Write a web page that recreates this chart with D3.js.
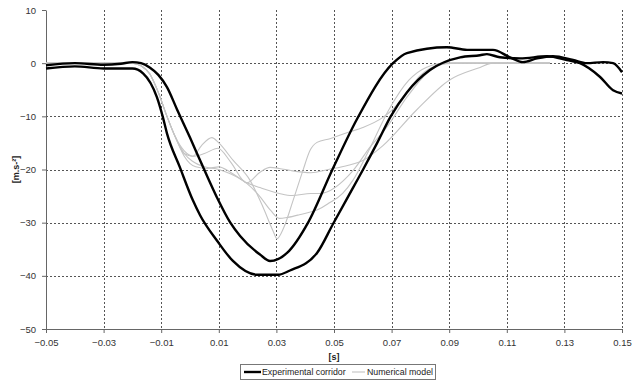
<!DOCTYPE html>
<html>
<head>
<meta charset="utf-8">
<script src="https://cdn.jsdelivr.net/npm/d3@7"></script>
<style>
  body { margin: 0; background: #fff; }
  svg { display: block; font-family: "Liberation Sans", Arial, sans-serif; }
  .axis path, .axis line { stroke: #666; }
  .axis text { fill: #333; font-size: 9.5px; }
</style>
</head>
<body>
<div id="chart"></div>
<script>
// experimental corridor, upper bound (time [s], accel [m.s-2])
const corridorUpT = [-0.05, -0.04, -0.03, -0.024, -0.02, -0.017, -0.014, -0.011, -0.008, -0.0045, 0.0, 0.0045, 0.0094, 0.014, 0.0174, 0.0243, 0.0278, 0.0337, 0.041, 0.0493, 0.058, 0.0705, 0.0753, 0.0892, 0.0962, 0.1052, 0.1111, 0.1156, 0.1205, 0.126, 0.133, 0.1378, 0.1434, 0.1469, 0.15];
const corridorUpV = [-0.4, 0.0, -0.3, -0.1, 0.2, 0.0, -0.8, -2.2, -4.5, -8.7, -14.0, -19.5, -25.3, -30.0, -32.5, -36.0, -37.2, -35.7, -30.0, -20.2, -10.5, 0.0, 1.9, 3.0, 2.5, 2.5, 1.1, 0.2, 0.9, 1.3, 0.6, 0.0, 0.2, 0.0, -1.7];

// experimental corridor, lower bound
const corridorLoT = [-0.05, -0.04, -0.03, -0.02, -0.0163, -0.0115, -0.0094, -0.008, -0.0035, 0.001, 0.0035, 0.0094, 0.0149, 0.0233, 0.0306, 0.0347, 0.0441, 0.0497, 0.055, 0.0601, 0.065, 0.0697, 0.0753, 0.0833, 0.0938, 0.1007, 0.1031, 0.1076, 0.1146, 0.124, 0.1309, 0.1354, 0.1424, 0.1469, 0.15];
const corridorLoV = [-1.0, -0.6, -1.0, -1.0, -1.9, -6.4, -10.2, -13.2, -19.6, -25.8, -28.6, -33.4, -37.2, -39.8, -39.8, -39.0, -35.7, -30.2, -25.0, -20.0, -15.0, -10.0, -5.5, -1.3, 1.1, 1.5, 1.7, 1.1, 0.9, 1.3, 0.6, 0.0, -2.6, -5.1, -5.7];

// numerical model runs
const modelAT = [-0.05, -0.03, -0.02, -0.017, -0.014, -0.011, -0.008, -0.005, -0.002, 0.001, 0.004, 0.0076, 0.010, 0.015, 0.0208, 0.0253, 0.0288, 0.0302, 0.0325, 0.0358, 0.0392, 0.0417, 0.0441, 0.0486, 0.055, 0.060, 0.067, 0.070, 0.075, 0.080, 0.086, 0.092, 0.125];
const modelAV = [0, 0, 0, -0.5, -2.0, -5.5, -10.0, -14.0, -17.0, -17.5, -15.5, -14.0, -15.0, -18.3, -22.0, -27.0, -31.5, -33.0, -31.0, -25.8, -20.2, -16.4, -14.9, -14.2, -13.0, -12.1, -10.2, -8.9, -5.7, -2.3, -0.4, 0, 0];

const modelBT = [-0.05, -0.03, -0.02, -0.017, -0.014, -0.011, -0.008, -0.005, -0.002, 0.001, 0.005, 0.010, 0.014, 0.0197, 0.024, 0.028, 0.031, 0.034, 0.038, 0.045, 0.048, 0.053, 0.0566, 0.062, 0.069, 0.076, 0.082, 0.089, 0.125];
const modelBV = [0, 0, 0, -0.5, -2.0, -5.5, -10.0, -14.0, -17.0, -18.5, -19.5, -20.0, -20.8, -22.6, -24.9, -27.7, -29.2, -29.0, -28.5, -27.4, -26.4, -24.5, -22.0, -16.5, -8.8, -3.2, -0.8, 0, 0];

const modelCT = [-0.05, -0.03, -0.02, -0.017, -0.014, -0.011, -0.008, -0.005, -0.002, 0.001, 0.005, 0.0097, 0.014, 0.0197, 0.0243, 0.0278, 0.031, 0.035, 0.042, 0.048, 0.055, 0.060, 0.067, 0.0785, 0.090, 0.1007, 0.105, 0.125];
const modelCV = [0, 0, 0, -0.5, -2.0, -5.5, -10.0, -14.0, -16.5, -17.5, -17.0, -16.0, -18.5, -22.5, -20.5, -19.6, -19.8, -20.2, -20.6, -20.0, -19.2, -18.3, -15.5, -8.9, -3.2, -0.8, 0, 0];

const modelDT = [-0.05, -0.03, -0.02, -0.017, -0.014, -0.011, -0.008, -0.005, -0.002, 0.002, 0.006, 0.010, 0.014, 0.0197, 0.0243, 0.031, 0.0354, 0.042, 0.0451, 0.0566, 0.0625, 0.0684, 0.0753, 0.0823, 0.0892, 0.125];
const modelDV = [0, 0, 0, -0.5, -2.0, -5.5, -10.0, -14.0, -17.5, -19.5, -19.8, -19.5, -20.5, -22.5, -23.4, -24.5, -24.9, -24.5, -24.5, -20.2, -15.8, -12.0, -6.4, -1.9, 0, 0];

const xTicks = [-0.05, -0.03, -0.01, 0.01, 0.03, 0.05, 0.07, 0.09, 0.11, 0.13, 0.15];
const yTicks = [-50, -40, -30, -20, -10, 0, 10];

const zip = (ts, vs) => ts.map((t, i) => ({ t, v: vs[i] }));
const corridor = [zip(corridorUpT, corridorUpV), zip(corridorLoT, corridorLoV)];
const model = [zip(modelAT, modelAV), zip(modelBT, modelBV), zip(modelCT, modelCV), zip(modelDT, modelDV)];

const w = 642, h = 387;
const m = { top: 10, right: 20, bottom: 58, left: 46 };

const svg = d3.select('#chart').append('svg')
  .attr('width', w).attr('height', h);

const x = d3.scaleLinear().domain([-0.05, 0.15]).range([m.left, w - m.right]);
const y = d3.scaleLinear().domain([-50, 10]).range([h - m.bottom, m.top]);

// grid
const grid = svg.append('g')
  .attr('stroke', '#555')
  .attr('stroke-width', 1)
  .attr('stroke-dasharray', '2,2');

grid.selectAll('.vg')
  .data(xTicks.slice(1))
  .join('line')
  .attr('x1', d => Math.round(x(d)) + 0.5).attr('x2', d => Math.round(x(d)) + 0.5)
  .attr('y1', y(10)).attr('y2', y(-50));

grid.selectAll('.hg')
  .data(yTicks.filter(d => d > -50 && d < 10))
  .join('line')
  .attr('x1', x(-0.05)).attr('x2', x(0.15))
  .attr('y1', d => Math.round(y(d)) + 0.5).attr('y2', d => Math.round(y(d)) + 0.5);

// axes
svg.append('g')
  .attr('class', 'axis')
  .attr('transform', `translate(0,${y(-50)})`)
  .call(d3.axisBottom(x).tickValues(xTicks).tickFormat(d3.format('.2f')).tickSizeInner(4).tickSizeOuter(0).tickPadding(6));

svg.append('g')
  .attr('class', 'axis')
  .attr('transform', `translate(${x(-0.05)},0)`)
  .call(d3.axisLeft(y).tickValues(yTicks).tickFormat(d3.format('d')).tickSizeInner(4).tickSizeOuter(0).tickPadding(6));

svg.append('text')
  .attr('x', x(0.05)).attr('y', 360)
  .attr('text-anchor', 'middle')
  .attr('font-size', '9px').attr('font-weight', 'bold')
  .attr('fill', '#222')
  .text('[s]');

svg.append('text')
  .attr('transform', `translate(19,${y(-20)}) rotate(-90)`)
  .attr('text-anchor', 'middle')
  .attr('font-size', '9px').attr('font-weight', 'bold')
  .attr('fill', '#222')
  .text('[m.s-²]');

const line = d3.line()
  .x(d => x(d.t))
  .y(d => y(d.v))
  .curve(d3.curveMonotoneX);

svg.append('g').selectAll('path')
  .data(model)
  .join('path')
  .attr('fill', 'none')
  .attr('stroke', '#c4c4c4')
  .attr('stroke-width', 1.1)
  .attr('d', line);

svg.append('g').selectAll('path')
  .data(corridor)
  .join('path')
  .attr('fill', 'none')
  .attr('stroke', '#000')
  .attr('stroke-width', 2.4)
  .attr('d', line);

// legend
const lg = svg.append('g').attr('transform', 'translate(240,364)');
lg.append('rect')
  .attr('x', 0.5).attr('y', 0.5).attr('width', 195).attr('height', 15)
  .attr('fill', '#fff').attr('stroke', '#777');
lg.append('line').attr('x1', 4).attr('x2', 21).attr('y1', 8).attr('y2', 8)
  .attr('stroke', '#000').attr('stroke-width', 2.4);
lg.append('text').attr('x', 22).attr('y', 11.3)
  .attr('font-size', '8.8px').attr('fill', '#222')
  .text('Experimental corridor');
lg.append('line').attr('x1', 112).attr('x2', 125).attr('y1', 8).attr('y2', 8)
  .attr('stroke', '#c4c4c4').attr('stroke-width', 1.1);
lg.append('text').attr('x', 127).attr('y', 11.3)
  .attr('font-size', '8.8px').attr('fill', '#222')
  .text('Numerical model');
</script>
</body>
</html>
